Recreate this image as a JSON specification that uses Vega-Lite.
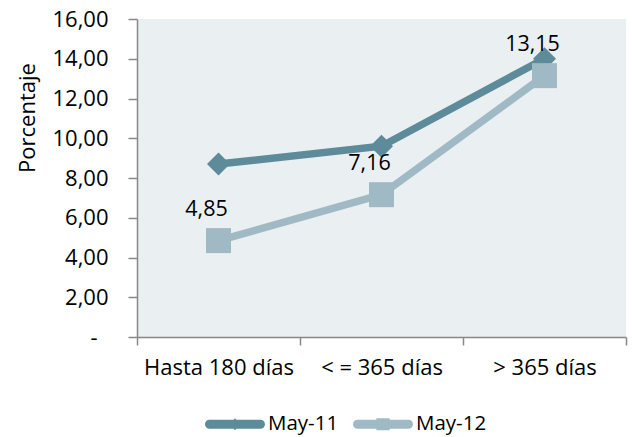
{
  "$schema": "https://vega.github.io/schema/vega-lite/v6.json",
  "width": 489,
  "height": 318,
  "autosize": "none",
  "padding": {"left": 137, "top": 19, "right": 6, "bottom": 100},
  "background": "white",
  "config": {
    "locale": {"number": {"decimal": ",", "thousands": ".", "grouping": [3], "currency": ["", " €"]}},
    "view": {"fill": "#eaeff2", "stroke": null},
    "font": "Open Sans",
    "axis": {
      "domainColor": "#888888",
      "tickColor": "#888888",
      "domainWidth": 1.5,
      "tickWidth": 1.5,
      "grid": false,
      "labelFont": "Open Sans",
      "labelFontSize": 22,
      "labelColor": "#000000",
      "titleColor": "#000000",
      "titleFont": "Open Sans"
    }
  },
  "data": {
    "values": [
      {"plazo": "Hasta 180 días", "serie": "May-11", "valor": 8.7},
      {"plazo": "< = 365 días", "serie": "May-11", "valor": 9.6},
      {"plazo": "> 365 días", "serie": "May-11", "valor": 14.0},
      {"plazo": "Hasta 180 días", "serie": "May-12", "valor": 4.85},
      {"plazo": "< = 365 días", "serie": "May-12", "valor": 7.16},
      {"plazo": "> 365 días", "serie": "May-12", "valor": 13.15}
    ]
  },
  "encoding": {
    "x": {
      "field": "plazo",
      "type": "nominal",
      "sort": ["Hasta 180 días", "< = 365 días", "> 365 días"],
      "scale": {"type": "band", "paddingInner": 0, "paddingOuter": 0},
      "axis": {"title": null, "tickBand": "extent", "tickSize": 8, "labelPadding": 12, "labelAngle": 0}
    },
    "y": {
      "field": "valor",
      "type": "quantitative",
      "scale": {"domain": [0, 16], "nice": false, "zero": true},
      "axis": {
        "values": [0, 2, 4, 6, 8, 10, 12, 14, 16],
        "format": ".2f",
        "labelExpr": "datum.value == 0 ? '-' : datum.label",
        "labelPadding": {"condition": {"test": "datum.value == 0", "value": 31}, "value": 20},
        "tickSize": 9,
        "title": "Porcentaje",
        "titleFontSize": 22,
        "titleFontWeight": "normal",
        "titleX": -110,
        "titleY": 98.5,
        "titleAngle": -90,
        "titleAlign": "center",
        "titleBaseline": "middle"
      }
    },
    "color": {
      "field": "serie",
      "type": "nominal",
      "scale": {"domain": ["May-11", "May-12"], "range": ["#5e8b99", "#9fbac4"]},
      "legend": {
        "title": null,
        "orient": "none",
        "direction": "horizontal",
        "legendX": 68,
        "legendY": 375,
        "padding": 0,
        "symbolSize": 3600,
        "symbolStrokeWidth": 0,
        "symbolOpacity": 1,
        "labelFontSize": 20.5,
        "labelFont": "Open Sans",
        "labelColor": "#000000",
        "labelOffset": 3,
        "columnPadding": 14,
        "encode": {
          "symbols": {
            "update": {
              "shape": {"signal": "datum.value === 'May-11' ? 'M-0.85,-0.15H0.85A0.15,0.15 0 0 1 0.85,0.15H-0.85A0.15,0.15 0 0 1 -0.85,-0.15Z M0,-0.2L0.18,0L0,0.2L-0.18,0Z' : 'M-0.85,-0.15H0.85A0.15,0.15 0 0 1 0.85,0.15H-0.85A0.15,0.15 0 0 1 -0.85,-0.15Z M-0.22,-0.2H0.22V0.2H-0.22Z'"},
              "size": {"value": 3600},
              "fill": {"scale": "color", "field": "value"},
              "stroke": {"value": "transparent"},
              "strokeWidth": {"value": 0},
              "opacity": {"value": 1}
            }
          }
        }
      }
    }
  },
  "layer": [
    {
      "mark": {"type": "line", "strokeWidth": 7.5},
      "encoding": {
        "order": {"value": null}
      }
    },
    {
      "transform": [{"filter": "datum.serie == 'May-11'"}],
      "mark": {"type": "point", "filled": true, "opacity": 1, "strokeWidth": 0, "shape": "diamond", "size": 530}
    },
    {
      "transform": [{"filter": "datum.serie == 'May-12'"}],
      "mark": {"type": "point", "filled": true, "opacity": 1, "strokeWidth": 0, "shape": "square", "size": 625}
    },
    {
      "transform": [{"filter": "datum.serie == 'May-12'"}],
      "mark": {"type": "text", "fontSize": 21.5, "dx": -12, "dy": -31, "align": "center", "baseline": "middle", "font": "Open Sans", "color": "#000000"},
      "encoding": {
        "text": {"field": "valor", "type": "quantitative", "format": ".2f"},
        "color": {"value": "#000000"}
      }
    }
  ]
}
